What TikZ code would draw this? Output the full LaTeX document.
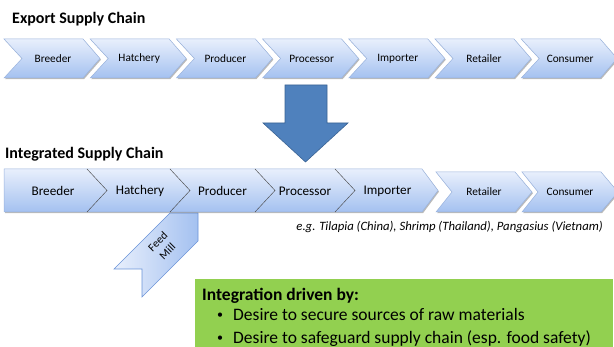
\documentclass[tikz,border=0pt]{standalone}
\usepackage{fontspec}
\setmainfont{Carlito}
\usetikzlibrary{shadows}

\definecolor{chevtop}{HTML}{E8EFFC}
\definecolor{chevbot}{HTML}{A4C1F0}
\definecolor{chevedge}{HTML}{9AB3DD}
\definecolor{notchline}{HTML}{4A4A4A}
\definecolor{arrowblue}{HTML}{4F81BD}
\definecolor{arrowedge}{HTML}{3A6394}
\definecolor{boxgreen}{HTML}{92D050}
\definecolor{milledge}{HTML}{6A93D8}

\begin{document}
\begin{tikzpicture}[x=1pt,y=-1pt,
  chevshape/.style={top color=chevtop,bottom color=chevbot,draw=chevedge,line width=0.5pt,
    drop shadow={opacity=0.45,shadow xshift=1pt,shadow yshift=-1.2pt,fill=black!60}},
  title/.style={font=\fontsize{16}{19}\selectfont\bfseries,anchor=base west,inner sep=0pt},
  smalllab/.style={font=\fontsize{11.3}{13}\selectfont,inner sep=0pt},
  biglab/.style={font=\fontsize{13.2}{15}\selectfont,inner sep=0pt},
  notch/.style={draw=notchline,line width=0.45pt},
  bigarrow/.style={fill=arrowblue,draw=arrowedge,line width=0.6pt},
  millshape/.style={left color=chevtop,right color=chevbot,draw=milledge,line width=0.6pt},
  boxtext/.style={font=\fontsize{17.5}{23}\selectfont,anchor=base west,inner sep=0pt},
  bulletmark/.style={font=\fontsize{12}{14}\selectfont,anchor=base,inner sep=0pt}]
\useasboundingbox (0,0) rectangle (614,347);

% ---- export chain: seven separate chevrons
\node[title] (exptitle) at (12,23.3) {Export Supply Chain};
\foreach \lab [count=\i from 0] in {Breeder,Hatchery,Producer,Processor,Importer,Retailer,Consumer}{
  \pgfmathsetmacro\s{4+86.2*\i}
  \path[chevshape] (\s,39) -- ++(79,0) -- ++(17,19.5) -- ++(-17,19.5) -- ++(-79,0) -- ++(18,-19.5) -- cycle;
  \node[smalllab] (exp\lab) at (\s+49,58.5) {\lab};
}

% ---- transition arrow
\path[bigarrow] (285,85) -- (327,85) -- (327,123) -- (348,123) -- (305.5,162)
  -- (263,123) -- (285,123) -- cycle;
\coordinate (arrowtip) at (305.5,162);

% ---- integrated chain
\node[title] (inttitle) at (5,158.8) {Integrated Supply Chain};

% feed mill ribbon, tucked under the merged bar
\path[millshape] (170,213) -- (198,213) -- (198,241) -- (142,297) -- (142,269) -- (114,269) -- cycle;
\node[rotate=45,align=center,inner sep=0pt,font=\fontsize{11.3}{13.5}\selectfont] (feedmill) at (162.5,246.5) {Feed\\Mill};

% merged bar: breeder through importer
\path[chevshape] (4,169) -- (422,169) -- (438,190.5) -- (422,212) -- (4,212) -- cycle;
\foreach \x in {87,170,255,335}{
  \draw[notch] (\x,169) -- (\x+20,190.5) -- (\x,212);
}
\node[biglab] (intBreeder)   at (53,191)    {Breeder};
\node[biglab] (intHatchery)  at (140,191)   {Hatchery};
\node[biglab] (intProducer)  at (222.5,191) {Producer};
\node[biglab] (intProcessor) at (305,191)   {Processor};
\node[biglab] (intImporter)  at (387.5,191) {Importer};

% retailer and consumer stay separate
\foreach \lab/\s in {Retailer/436,Consumer/522}{
  \path[chevshape] (\s,172) -- ++(79,0) -- ++(17,20) -- ++(-17,20) -- ++(-79,0) -- ++(16,-20) -- cycle;
  \node[smalllab] (int\lab) at (\s+48,192) {\lab};
}

\node[font=\fontsize{12.7}{15}\selectfont\itshape,anchor=base east,inner sep=0pt] (examples)
  at (603,231) {e.g. Tilapia (China), Shrimp (Thailand), Pangasius (Vietnam)};

% ---- drivers box
\path[fill=boxgreen] (195,279) rectangle (613,347);
\node[boxtext,font=\fontsize{17.5}{23}\selectfont\bfseries] (drivers) at (202,300.5) {Integration driven by:};
\node[bulletmark] (bulletA) at (220,319) {•};
\node[boxtext] (driverA) at (233,320.7) {Desire to secure sources of raw materials};
\node[bulletmark] (bulletB) at (220,341.7) {•};
\node[boxtext] (driverB) at (233,343.4) {Desire to safeguard supply chain (esp. food safety)};
\end{tikzpicture}
\end{document}
